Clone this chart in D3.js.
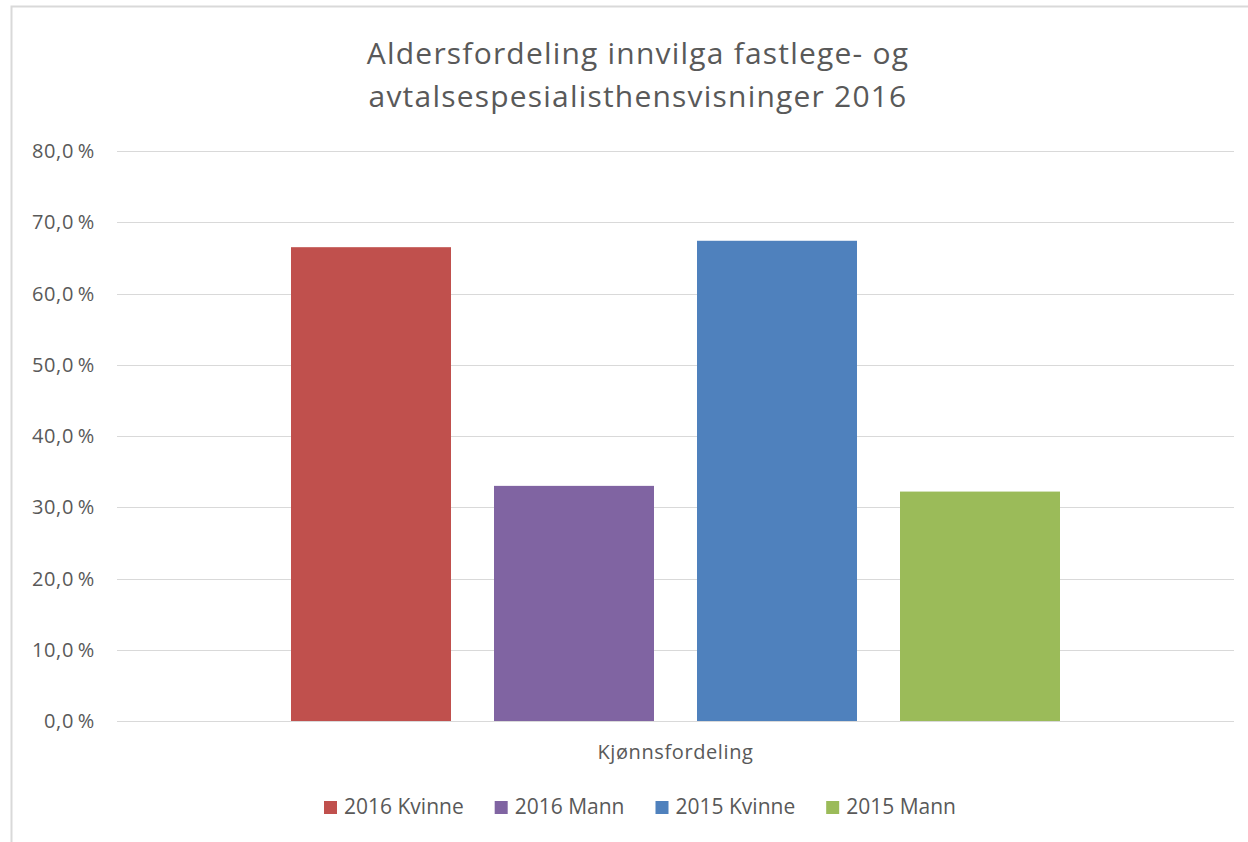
<!DOCTYPE html>
<html>
<head>
<meta charset="utf-8">
<script src="https://cdn.jsdelivr.net/npm/d3@7"></script>
<style>
  body { margin: 0; background: #fff; }
  text { font-family: "Open Sans", Lato, sans-serif; fill: #595959; }
</style>
</head>
<body>
<svg width="1248" height="842"></svg>
<script>
//data
const series = ['2016 Kvinne', '2016 Mann', '2015 Kvinne', '2015 Mann'];
const values = [66.5, 33.0, 67.4, 32.2];
const colors = ['#C0504D', '#8064A2', '#4F81BD', '#9BBB59'];
const category = 'Kjønnsfordeling';
const ticks = [0, 10, 20, 30, 40, 50, 60, 70, 80];
const titleLines = ['Aldersfordeling innvilga fastlege- og', 'avtalsespesialisthensvisninger 2016'];

//set up
const svg = d3.select('svg');
const plotLeft = 117, plotRight = 1234, plotTop = 151, plotBottom = 721;

//outer border
svg.append('path')
  .attr('d', 'M11.5,850 V6.5 H1260')
  .attr('fill', 'none')
  .attr('stroke', '#d9d9d9')
  .attr('stroke-width', 2);

//title
svg.selectAll('.title')
  .data(titleLines)
  .join('text')
  .attr('class', 'title')
  .attr('x', 638)
  .attr('y', (d, i) => 64 + i * 43)
  .attr('text-anchor', 'middle')
  .style('font-size', '30px')
  .style('letter-spacing', '1.2px')
  .text(d => d);

//scales
const y = d3.scaleLinear().domain([0, 80]).range([plotBottom, plotTop]);
const x0 = d3.scaleBand().domain([category]).range([plotLeft, plotRight]);
const x1 = d3.scaleBand().domain(series)
  .range([0, x0.bandwidth()])
  .paddingInner(43 / 203)
  .paddingOuter((x0.bandwidth() - 769) / 2 / 203);

//gridlines
svg.selectAll('.grid')
  .data(ticks)
  .join('line')
  .attr('x1', plotLeft)
  .attr('x2', plotRight)
  .attr('y1', d => Math.round(y(d)) + 0.5)
  .attr('y2', d => Math.round(y(d)) + 0.5)
  .attr('stroke', '#d9d9d9')
  .attr('stroke-width', 1);

//y axis labels
const fmt = d => d3.format('.1f')(d).replace('.', ',') + '\u2006%';
svg.selectAll('.ytick')
  .data(ticks)
  .join('text')
  .attr('x', 95)
  .attr('y', d => y(d) + 7)
  .attr('text-anchor', 'end')
  .style('font-size', '20px')
  .style('letter-spacing', '0.6px')
  .text(fmt);

//bars
svg.selectAll('.bar')
  .data(series.map((s, i) => ({ s, v: values[i], c: colors[i] })))
  .join('rect')
  .attr('x', d => x0(category) + x1(d.s))
  .attr('width', x1.bandwidth())
  .attr('y', d => y(d.v))
  .attr('height', d => y(0) - y(d.v))
  .attr('fill', d => d.c);

//category label
svg.append('text')
  .attr('x', x0(category) + x0.bandwidth() / 2)
  .attr('y', 759)
  .attr('text-anchor', 'middle')
  .style('font-size', '20px')
  .style('letter-spacing', '0.6px')
  .text(category);

//legend
const legend = svg.append('g');
let lx = 0;
series.forEach((s, i) => {
  const g = legend.append('g').attr('transform', `translate(${lx},0)`);
  g.append('rect').attr('x', 0).attr('y', -13).attr('width', 13).attr('height', 13).attr('fill', colors[i]);
  const t = g.append('text').attr('x', 20).attr('y', 0).style('font-size', '21px').text(s);
  lx += 20 + t.node().getComputedTextLength() + 31;
});
const lw = lx - 31;
legend.attr('transform', `translate(${640 - lw / 2},814)`);
</script>
</body>
</html>
